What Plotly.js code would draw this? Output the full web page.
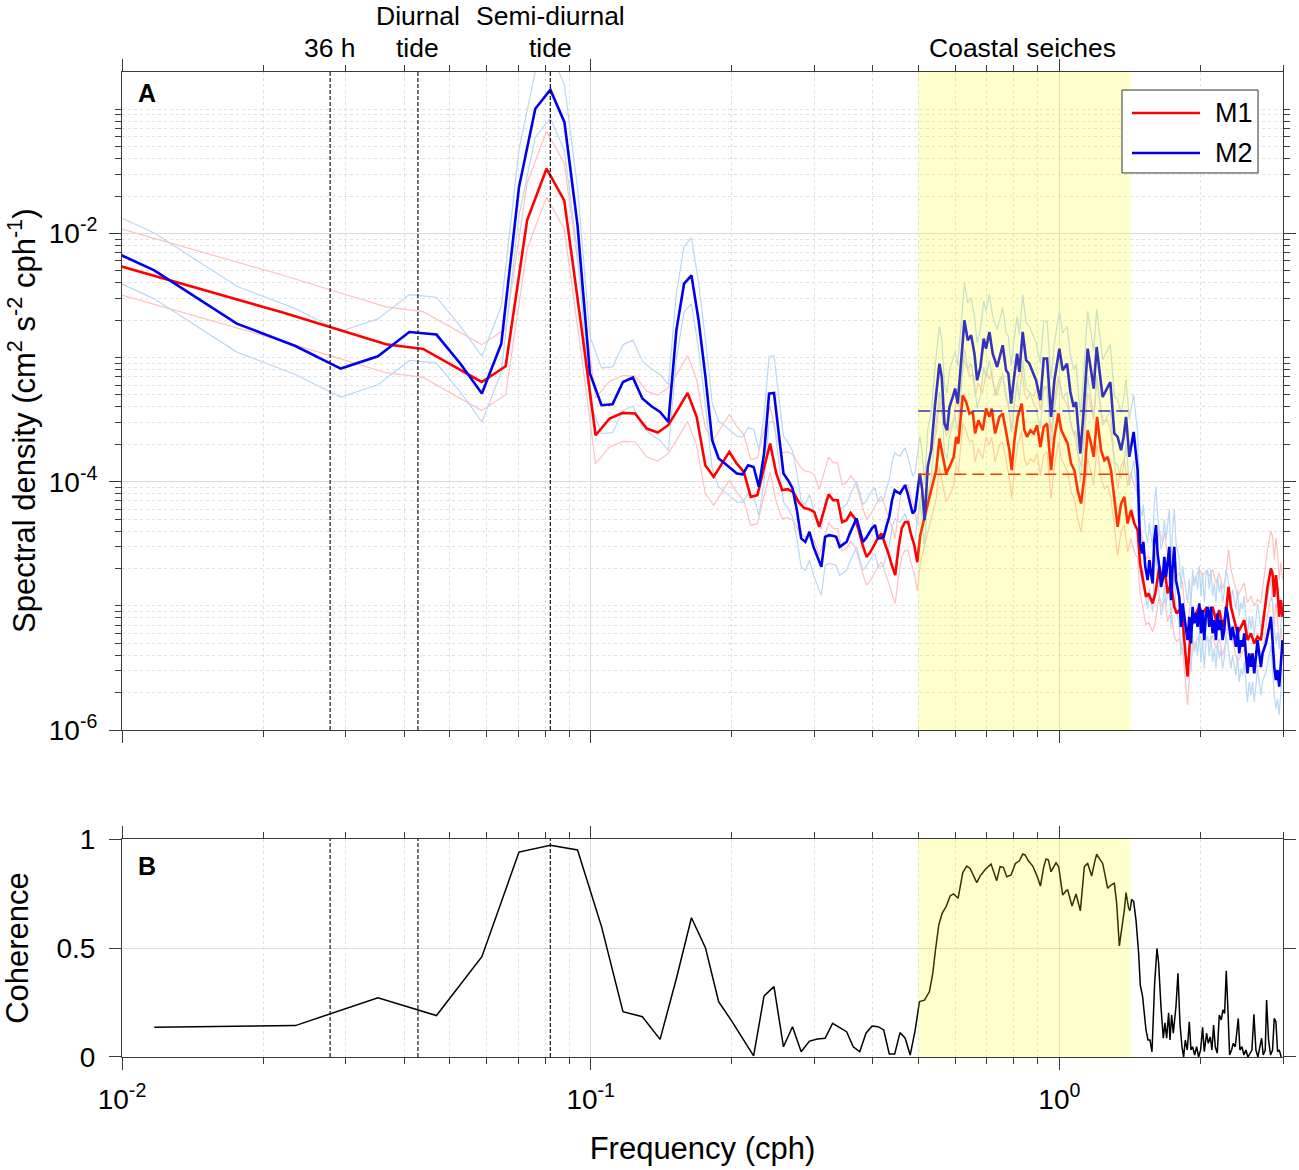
<!DOCTYPE html>
<html><head><meta charset="utf-8">
<script src="https://cdn.plot.ly/plotly-3.0.1.min.js"></script>
<style>html,body{margin:0;padding:0;background:#fff}#chart{width:1299px;height:1170px}</style>
</head><body><div id="chart"></div>
<script>
// ================= DATA =================
// M2 spectrum, log10(cm^2 s^-2 cph^-1), FFT bins k = 1..88 (df = 3/512 cph)
const m2Df = 3 / 512;
const m2LowLog = [
 -1.775,-2.298,-2.727,-2.907,-3.089,-2.990,-2.794,-2.815,-3.05,-3.290,
 -2.888,-1.627,-0.996,-0.843,-1.104,-1.936,-3.129,-3.384,-3.376,-3.197,
 -3.161,-3.330,-3.392,-3.438,-3.519,-2.781,-2.405,-2.338,-2.70,-3.16,
 -3.666,-3.813,-3.853,-3.891,-3.934,-3.940,-3.867,-3.881,-4.042,-3.773,
 -3.290,-3.285,-3.612,-3.934,-3.988,-4.052,-4.229,-4.457,-4.485,-4.404,
 -4.525,-4.600,-4.686,-4.444,-4.431,-4.435,-4.444,-4.525,-4.503,-4.485,
 -4.414,-4.350,-4.296,-4.390,-4.485,-4.455,-4.417,-4.374,-4.350,-4.457,
 -4.455,-4.444,-4.358,-4.283,-4.149,-4.068,-4.085,-4.095,-4.060,-4.028,
 -4.095,-4.189,-4.256,-4.229,-4.068,-3.934,-4.068,-4.310];
// M2 spectrum above 0.52 cph (frequency in cph, log10 density)
const m2HighFreq = [
 0.5238,0.5326,0.5432,0.5548,0.5611,0.5686,0.5761,0.5827,0.5922,0.5992,
 0.6069,0.6150,0.6272,0.6375,0.6482,0.6588,0.6676,0.6785,0.6896,0.6977,
 0.7092,0.7207,0.7365,0.7570,0.7697,0.7783,0.7889,0.7991,0.8124,0.8217,
 0.8351,0.8492,0.8630,0.8771,0.8919,0.9109,0.9259,0.9414,0.9601,0.9758,
 1.0000,1.0163,1.0385,1.0555,1.0728,1.0854,1.1086,1.1268,1.1490,1.1684,
 1.1835,1.2010,1.2170,1.2368,1.2577,1.2845,1.3100,1.3313,1.3538,1.3713,
 1.3874,1.4101,1.4403,1.4687,
 1.4862,1.5009,1.5104,1.5253,1.5426,1.5556,1.5686,1.5809,1.5942,1.6076,
 1.6202,1.6339,1.6475,1.6605,1.6745,1.6885,1.7161,1.7304,1.7440,1.7587,
 1.7734,1.7874,1.8024,1.8175,1.8318,1.8472,1.8627,1.8773,1.8931,1.9090,
 1.9240,1.9402,1.9564,1.9718,1.9884,2.0050,2.0208,2.0378,2.0548,2.0710,
 2.0884,2.1059,2.1225,2.1403,2.1582,2.1752,2.1935,2.2119,2.2293,2.2480,
 2.2668,2.2847,2.3039,2.3232,2.3415,2.3611,2.3809,2.3996,2.4198,2.4401,
 2.4593,2.4800,2.5204,2.5416,2.5629,2.5831,2.6047,2.6265,2.6472,2.6695,
 2.6918,2.7130,2.7586,2.8038,2.8273,2.8496,2.8735,2.8975,2.9203,2.9449,
 2.9695,2.9929];
const m2HighLog = [
 -3.881,-3.746,-3.371,-3.049,-3.157,-3.532,-3.586,-3.398,-3.318,-3.250,
 -3.371,-3.076,-2.700,-2.861,-2.821,-2.968,-3.183,-3.076,-2.847,-2.928,
 -2.794,-2.968,-3.076,-2.901,-3.103,-3.129,-3.371,-3.183,-2.968,-3.116,
 -2.794,-3.022,-3.049,-3.116,-3.183,-3.344,-3.008,-3.008,-3.478,-3.183,
 -2.928,-3.103,-3.049,-3.277,-3.398,-3.358,-3.773,-3.425,-2.928,-3.103,
 -3.250,-2.915,-3.103,-3.318,-3.264,-3.197,-3.612,-3.639,-3.746,-3.639,
 -3.478,-3.800,-3.599,-3.907,
 -4.497,-4.578,-4.485,-4.686,-4.793,-4.632,-4.739,-4.819,-4.471,-4.350,
 -4.578,-4.686,-4.847,-4.793,-4.605,-4.766,-4.525,-4.954,-4.686,-4.525,
 -4.793,-4.847,-4.927,-5.169,-4.980,-5.088,-5.169,-5.276,-5.088,-5.302,
 -5.008,-5.141,-5.061,-5.169,-4.980,-5.222,-5.034,-5.276,-5.061,-5.008,
 -5.169,-5.008,-5.222,-5.115,-5.276,-5.061,-5.195,-5.115,-5.276,-5.195,
 -5.008,-5.061,-5.169,-5.276,-5.169,-5.249,-5.330,-5.169,-5.383,-5.276,
 -5.330,-5.222,-5.544,-5.383,-5.491,-5.383,-5.544,-5.410,-5.276,-5.383,
 -5.491,-5.383,-5.302,-5.169,-5.088,-5.276,-5.491,-5.598,-5.517,-5.651,
 -5.410,-5.276];

// M1 spectrum, FFT bins k = 1..69 (df = 3/410 cph)
const m1Df = 3 / 410;
const m1LowLog = [
 -2.121,-2.443,-2.636,-2.781,-2.893,-2.931,-3.073,-3.197,-3.070,-1.895,
 -1.479,-1.734,-2.70,-3.626,-3.491,-3.446,-3.451,-3.572,-3.604,-3.545,
 -3.414,-3.285,-3.478,-3.867,-3.961,-3.857,-3.760,-3.854,-3.921,-4.122,
 -4.109,-3.894,-3.693,-3.932,-4.068,-4.060,-4.085,-4.165,-4.213,-4.221,
 -4.245,-4.364,-4.229,-4.101,-4.149,-4.149,-4.326,-4.310,-4.251,-4.294,
 -4.390,-4.511,-4.605,-4.567,-4.511,-4.455,-4.417,-4.495,-4.578,-4.672,
 -4.753,-4.535,-4.374,-4.326,-4.324,-4.431,-4.511,-4.648,-4.431];
const m1HighFreq = [
 0.5282,0.5459,0.5548,0.5638,0.5733,0.5827,0.5952,0.6022,0.6089,0.6220,
 0.6325,0.6428,0.6533,0.6611,0.6717,0.6862,0.6977,0.7092,0.7172,0.7293,
 0.7448,0.7570,0.7697,0.7823,0.7912,0.8018,0.8148,0.8311,0.8421,0.8533,
 0.8673,0.8815,0.8963,0.9109,0.9259,0.9414,0.9601,0.9758,0.9951,1.0099,
 1.0249,1.0416,1.0591,1.0764,1.0940,1.1124,1.1306,1.1490,1.1684,1.1835,
 1.2033,1.2272,1.2472,1.2676,1.2889,1.3100,1.3313,1.3538,1.3759,1.3983,
 1.4219,1.4451,1.4687,
 1.4862,1.5179,1.5306,1.5502,1.5686,1.5809,1.6021,1.6202,1.6339,1.6605,
 1.6786,1.7017,1.7304,1.7587,1.7788,1.8024,1.8318,1.8627,1.8773,1.8996,
 1.9240,1.9564,1.9884,2.0208,2.0548,2.0884,2.1225,2.1582,2.1935,2.2293,
 2.2668,2.2959,2.3232,2.3611,2.3996,2.4401,2.4800,2.5204,2.5629,2.6047,
 2.6472,2.6918,2.7358,2.7804,2.8273,2.8496,2.8735,2.8975,2.9203,2.9449,
 2.9695,2.9929];
const m1HighLog = [
 -4.122,-3.907,-3.652,-3.800,-3.934,-3.881,-3.800,-3.639,-3.693,-3.304,
 -3.358,-3.451,-3.438,-3.612,-3.505,-3.586,-3.411,-3.478,-3.411,-3.612,
 -3.478,-3.451,-3.612,-3.746,-3.907,-3.666,-3.478,-3.371,-3.586,-3.639,
 -3.586,-3.612,-3.545,-3.720,-3.559,-3.532,-3.907,-3.639,-3.451,-3.586,
 -3.639,-3.693,-3.853,-3.907,-4.068,-4.176,-3.961,-3.586,-3.693,-3.800,
 -3.478,-3.746,-3.827,-3.800,-3.907,-4.122,-4.364,-4.176,-4.122,-4.337,
 -4.229,-4.337,-4.390,
 -4.658,-4.847,-4.927,-4.900,-4.954,-4.980,-4.900,-4.793,-4.686,-4.793,
 -4.712,-4.900,-4.819,-5.008,-5.061,-5.034,-5.115,-5.437,-5.571,-5.276,
 -5.115,-5.061,-5.008,-5.061,-5.020,-5.061,-5.008,-5.115,-5.034,-5.169,
 -5.061,-4.847,-5.008,-5.115,-5.222,-5.169,-5.115,-5.276,-5.222,-5.302,
 -5.249,-5.276,-5.061,-4.847,-4.699,-4.739,-4.927,-4.753,-4.873,-5.088,
 -4.954,-5.088];

// 95% confidence-interval factors of the spectra
const ciUpper = 2.0, ciLower = 0.59;

// Coherence M1-M2: bins k = 1..42 (df = 3/256 cph), then above 0.5 cph
const cohDf = 3 / 256;
const cohLow = [
 0.136,0.144,0.272,0.19,0.46,0.94,0.971,0.95,0.598,0.208,
 0.185,0.081,0.36,0.639,0.50,0.254,0.17,0.085,0.005,0.28,
 0.323,0.047,0.139,0.024,0.073,0.083,0.086,0.154,0.135,0.116,
 0.047,0.024,0.109,0.142,0.139,0.124,0.014,0.014,0.112,0.086,
 0.009,0.121];
const cohHighFreq = [
 0.5029,0.5154,0.5282,0.5369,0.5440,0.5529,0.5621,0.5732,0.5846,0.5942,
 0.6080,0.6221,0.6344,0.6449,0.6664,0.6773,0.6953,0.7149,0.7351,0.7472,
 0.7595,0.7721,0.7887,0.8057,0.8217,0.8352,0.8448,0.8587,0.8773,0.8963,
 0.9111,0.9262,0.9366,0.9474,0.9598,0.9837,0.9966,1.0165,1.0333,1.0418,
 1.0641,1.0852,1.1085,1.1305,1.1491,1.1719,1.1874,1.2010,1.2169,1.2370,
 1.2472,1.2678,1.2888,1.3100,1.3251,1.3425,1.3603,1.3760,1.3872,1.4055,
 1.4147,1.4262,1.4404,1.4570,1.4761,1.4882,1.5052,1.5176,1.5303,1.5454,
 1.5606,1.5761,1.5969,1.6152,1.6284,1.6472,1.6662,1.6798,1.6937,1.7104,
 1.7216,1.7358,1.7501,1.7731,1.7906,1.8083,1.8262,1.8412,1.8563,1.8747,
 1.8931,1.9087,1.9244,1.9434,1.9625,1.9819,2.0014,2.0212,2.0378,2.0612,
 2.0782,2.0987,2.1160,2.1333,2.1509,2.1721,2.1935,2.2153,2.2335,2.2518,
 2.2702,2.2889,2.3076,2.3303,2.3496,2.3728,2.3883,2.4080,2.4278,2.4517,
 2.4759,2.5004,2.5251,2.5500,2.5752,2.6007,2.6262,2.6522,2.6784,2.7003,
 2.7224,2.7494,2.7675,2.7947,2.8222,2.8500,2.8734,2.8972,2.9210,2.9450,
 2.9741];
const cohHighVal = [
 0.254,0.261,0.30,0.384,0.491,0.605,0.659,0.69,0.739,0.748,
 0.728,0.846,0.876,0.865,0.80,0.83,0.861,0.885,0.809,0.873,
 0.87,0.827,0.835,0.888,0.90,0.931,0.927,0.90,0.876,0.83,
 0.784,0.873,0.908,0.904,0.85,0.891,0.873,0.743,0.763,0.766,
 0.693,0.748,0.671,0.873,0.888,0.83,0.888,0.93,0.911,0.888,
 0.85,0.774,0.789,0.797,0.705,0.509,0.598,0.674,0.754,0.682,
 0.671,0.723,0.713,0.628,0.476,0.330,0.277,0.20,0.124,0.078,
 0.078,0.024,0.338,0.498,0.43,0.231,0.086,0.157,0.086,0.203,
 0.078,0.193,0.109,0.231,0.384,0.154,0.047,0.0,0.078,0.032,
 0.162,0.032,0.047,0.009,0.047,0.0,0.032,0.136,0.024,0.109,
 0.063,0.093,0.032,0.147,0.047,0.017,0.193,0.17,0.216,0.20,
 0.396,0.216,0.009,0.032,0.063,0.047,0.093,0.177,0.032,0.047,
 0.009,0.032,0.0,0.017,0.032,0.196,0.032,0.0,0.047,0.086,
 0.009,0.032,0.261,0.078,0.009,0.032,0.177,0.162,0.024,0.032,
 0.0];

// Coastal-seiche band and mean levels inside it (log10)
const seicheBand = [0.5, 1.42];
const seicheLevelLogM1 = -3.94;
const seicheLevelLogM2 = -3.43;

// Reference periods marked by dashed lines (cph), label lines above the panel
const markerFreq = [0.0278, 0.0428, 0.0820];
const markerUpper = ['', 'Diurnal', 'Semi-diurnal'];
const markerLower = ['36 h', 'tide', 'tide'];
const bandLabelFreq = 0.834;
const bandLabel = 'Coastal seiches';
const seriesNames = ['M1', 'M2'];

// ================= BUILD =================
const pow10 = v => Math.pow(10, v);
const m2Freq = m2LowLog.map((_, i) => (i + 1) * m2Df).concat(m2HighFreq);
const m2S = m2LowLog.concat(m2HighLog).map(pow10);
const m1Freq = m1LowLog.map((_, i) => (i + 1) * m1Df).concat(m1HighFreq);
const m1S = m1LowLog.concat(m1HighLog).map(pow10);
const cohFreq = cohLow.map((_, i) => (i + 1) * cohDf).concat(cohHighFreq);
const cohVal = cohLow.concat(cohHighVal);

const RED = 'rgb(255,0,0)', BLUE = 'rgb(0,0,235)';
const RED_CI = 'rgb(255,192,192)', BLUE_CI = 'rgb(185,216,245)';
const AX = '#3a3a3a';
const FONT = 'Liberation Sans, Arial, Helvetica, sans-serif';

function line(x, y, color, width, extra) {
  return Object.assign({type: 'scatter', mode: 'lines', x: x, y: y,
    line: {color: color, width: width}, hoverinfo: 'skip', showlegend: false}, extra || {});
}

const traces = [
  line(m1Freq, m1S.map(v => v * ciUpper), RED_CI, 1.2),
  line(m1Freq, m1S.map(v => v * ciLower), RED_CI, 1.2),
  line(m2Freq, m2S.map(v => v * ciUpper), BLUE_CI, 1.2),
  line(m2Freq, m2S.map(v => v * ciLower), BLUE_CI, 1.2),
  line(m1Freq, m1S, RED, 2.6, {name: seriesNames[0]}),
  line(m2Freq, m2S, BLUE, 2.6, {name: seriesNames[1]}),
  line(seicheBand, [pow10(seicheLevelLogM2), pow10(seicheLevelLogM2)], BLUE, 1.4),
  line(seicheBand, [pow10(seicheLevelLogM1), pow10(seicheLevelLogM1)], RED, 1.4),
];
traces[6].line.dash = '12px,6px';
traces[7].line.dash = '12px,6px';

// dashed period markers in both panels
const mx = [], myTop = [], myBot = [];
markerFreq.forEach(f => { mx.push(f, f, null); myTop.push(1e-6, 1, null); myBot.push(0, 1, null); });
traces.push(line(mx, myTop, '#000', 1.1, {line: {color: '#000', width: 1.1, dash: '4px,2px'}}));
traces.push(line(mx, myBot, '#000', 1.1, {xaxis: 'x2', yaxis: 'y2', line: {color: '#000', width: 1.1, dash: '4px,2px'}}));
traces.push(line(cohFreq, cohVal, '#000', 1.5, {xaxis: 'x2', yaxis: 'y2', name: 'Coherence'}));

// ticks
const xMinor = [];
[-2, -1, 0].forEach(e => { for (let m = 2; m <= 9; m++) { const v = m * Math.pow(10, e); if (v <= 3.0001) xMinor.push(v); } });
const yMinor = [];
for (let e = -6; e <= -1; e++) for (let m = 1; m <= 9; m++) {
  if (m === 1 && (e === -6 || e === -4 || e === -2)) continue;
  const v = m * Math.pow(10, e); if (v <= Math.pow(10, -0.7)) yMinor.push(v);
}

const TICKFONT = {family: FONT, size: 28, color: '#000'};
const xCommon = {
  type: 'log', range: [-2, Math.log10(3)], showline: true, linecolor: AX, linewidth: 1,
  mirror: 'allticks', ticks: 'outside', ticklen: 12, tickwidth: 1, tickcolor: AX,
  tickmode: 'array', tickvals: [0.01, 0.1, 1],
  ticktext: ['10<sup>-2</sup>', '10<sup>-1</sup>', '10<sup>0</sup>'],
  showgrid: true, gridcolor: '#dcdcdc', gridwidth: 1, zeroline: false,
  minor: {tickmode: 'array', tickvals: xMinor, ticks: 'outside', ticklen: 6, tickcolor: AX,
          showgrid: true, gridcolor: '#e0e0e0', griddash: 'dot', gridwidth: 1},
  tickfont: TICKFONT
};

// custom legend box (paper coordinates)
const LG = {x0: 0.8613, x1: 0.9785, y0: 0.8975, y1: 0.9817, lx0: 0.8699, lx1: 0.9285, tx: 0.9397,
            rows: [0.9584, 0.9178]};

const labelFont = {family: FONT, size: 26.5, color: '#000'};
const annotations = [
  {text: '<b>A</b>', xref: 'paper', yref: 'paper', x: 0.0219, y: 0.9787, showarrow: false,
   font: {family: FONT, size: 25, color: '#000'}, xanchor: 'center', yanchor: 'middle'},
  {text: '<b>B</b>', xref: 'paper', yref: 'paper', x: 0.0219, y: 0.1939, showarrow: false,
   font: {family: FONT, size: 25, color: '#000'}, xanchor: 'center', yanchor: 'middle'},
  {text: 'Spectral density (cm<sup>2</sup> s<sup>-2</sup> cph<sup>-1</sup>)', xref: 'paper', yref: 'paper',
   x: -0.0861, y: 0.6457, textangle: -90, showarrow: false,
   font: {family: FONT, size: 31, color: '#000'}, xanchor: 'center', yanchor: 'middle'},
  {text: bandLabel, xref: 'x', yref: 'paper', x: Math.log10(bandLabelFreq), y: 1.0244,
   showarrow: false, font: labelFont, xanchor: 'center', yanchor: 'middle'},
  {text: seriesNames[0], xref: 'paper', yref: 'paper', x: LG.tx, y: LG.rows[0], showarrow: false,
   font: {family: FONT, size: 27, color: '#000'}, xanchor: 'left', yanchor: 'middle'},
  {text: seriesNames[1], xref: 'paper', yref: 'paper', x: LG.tx, y: LG.rows[1], showarrow: false,
   font: {family: FONT, size: 27, color: '#000'}, xanchor: 'left', yanchor: 'middle'}
];
markerFreq.forEach((f, i) => {
  annotations.push({text: markerLower[i], xref: 'x', yref: 'paper', x: Math.log10(f), y: 1.0244,
    showarrow: false, font: labelFont, xanchor: 'center', yanchor: 'middle'});
  if (markerUpper[i]) annotations.push({text: markerUpper[i], xref: 'x', yref: 'paper', x: Math.log10(f), y: 1.0569,
    showarrow: false, font: labelFont, xanchor: 'center', yanchor: 'middle'});
});

const layout = {
  width: 1299, height: 1170,
  margin: {l: 122, r: 16, t: 72, b: 113},
  paper_bgcolor: '#fff', plot_bgcolor: '#fff',
  hovermode: false, showlegend: false,
  font: {family: FONT, color: '#000'},
  xaxis: Object.assign({}, xCommon, {anchor: 'y', showticklabels: false, domain: [0, 1]}),
  yaxis: {
    type: 'log', range: [-6, -0.7], domain: [0.33198, 1], anchor: 'x',
    showline: true, linecolor: AX, linewidth: 1, mirror: 'allticks',
    ticks: 'outside', ticklen: 12, tickwidth: 1, tickcolor: AX,
    tickmode: 'array', tickvals: [1e-6, 1e-4, 1e-2],
    ticktext: ['10<sup>-6</sup>', '10<sup>-4</sup>', '10<sup>-2</sup>'],
    tickfont: TICKFONT, ticklabelstandoff: 6,
    showgrid: true, gridcolor: '#dcdcdc', zeroline: false,
    minor: {tickmode: 'array', tickvals: yMinor, ticks: 'outside', ticklen: 6, tickcolor: AX,
            showgrid: true, gridcolor: '#e0e0e0', griddash: 'dot', gridwidth: 1}
  },
  xaxis2: Object.assign({}, xCommon, {anchor: 'y2', showticklabels: true, domain: [0, 1],
    ticklabelstandoff: 5,
    title: {text: 'Frequency (cph)', font: {family: FONT, size: 31, color: '#000'}, standoff: 23}}),
  yaxis2: {
    range: [0, 1], domain: [0, 0.2213], anchor: 'x2',
    showline: true, linecolor: AX, linewidth: 1, mirror: 'allticks',
    ticks: 'outside', ticklen: 12, tickwidth: 1, tickcolor: AX,
    tickmode: 'array', tickvals: [0, 0.5, 1], ticktext: ['0', '0.5', '1'],
    tickfont: TICKFONT, ticklabelstandoff: 8,
    showgrid: true, gridcolor: '#dcdcdc', zeroline: false,
    title: {text: 'Coherence', font: {family: FONT, size: 31, color: '#000'}, standoff: 26}
  },
  shapes: [
    {type: 'rect', xref: 'x', yref: 'y domain', x0: seicheBand[0], x1: seicheBand[1], y0: 0, y1: 1,
     fillcolor: 'rgb(255,255,0)', opacity: 0.2, line: {width: 0}, layer: 'above'},
    {type: 'rect', xref: 'x2', yref: 'y2 domain', x0: seicheBand[0], x1: seicheBand[1], y0: 0, y1: 1,
     fillcolor: 'rgb(255,255,0)', opacity: 0.2, line: {width: 0}, layer: 'above'},
    {type: 'rect', xref: 'paper', yref: 'paper', x0: LG.x0, x1: LG.x1, y0: LG.y0, y1: LG.y1,
     fillcolor: '#fff', line: {color: '#333', width: 1}, layer: 'above'},
    {type: 'line', xref: 'paper', yref: 'paper', x0: LG.lx0, x1: LG.lx1, y0: LG.rows[0], y1: LG.rows[0],
     line: {color: RED, width: 2.6}, layer: 'above'},
    {type: 'line', xref: 'paper', yref: 'paper', x0: LG.lx0, x1: LG.lx1, y0: LG.rows[1], y1: LG.rows[1],
     line: {color: BLUE, width: 2.6}, layer: 'above'}
  ],
  annotations: annotations
};

Plotly.newPlot('chart', traces, layout, {displayModeBar: false, staticPlot: true});
</script></body></html>
